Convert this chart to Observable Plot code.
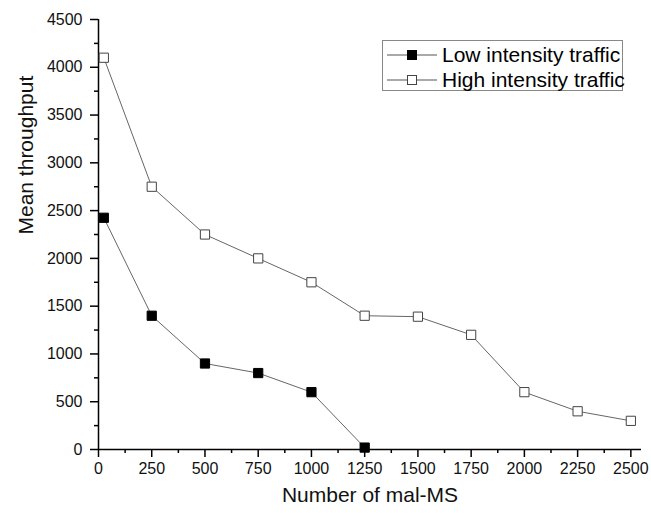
<!DOCTYPE html>
<html>
<head>
<meta charset="utf-8">
<script src="https://cdn.jsdelivr.net/npm/d3@7"></script>
<script src="https://cdn.jsdelivr.net/npm/@observablehq/plot@0.6"></script>
<style>
  html, body { margin: 0; padding: 0; background: #fff; }
  #wrap { position: relative; width: 651px; height: 513px; font-family: "Liberation Sans", Arial, sans-serif; }
  #legend { position: absolute; left: 382px; top: 40px; width: 241px; height: 51px; border: 1px solid #888; background: #fff; box-sizing: border-box; }
  .row { position: absolute; left: 3px; height: 24px; display: flex; align-items: center; font-size: 21px; color: #000; white-space: nowrap; }
  .row svg { margin-right: 4px; }
</style>
</head>
<body>
<div id="wrap"></div>
<script>
const xValues = [25, 250, 500, 750, 1000, 1250, 1500, 1750, 2000, 2250, 2500];
const lowValues = [2425, 1400, 900, 800, 600, 20];
const highValues = [4100, 2750, 2250, 2000, 1750, 1400, 1390, 1200, 600, 400, 300];
const seriesNames = ["Low intensity traffic", "High intensity traffic"];
const xTicks = [0, 250, 500, 750, 1000, 1250, 1500, 1750, 2000, 2250, 2500];
const xMinor = [125, 375, 625, 875, 1125, 1375, 1625, 1875, 2125, 2375];
const yTicks = [0, 500, 1000, 1500, 2000, 2500, 3000, 3500, 4000, 4500];
const yMinor = [250, 750, 1250, 1750, 2250, 2750, 3250, 3750, 4250];

const low = lowValues.map((v, i) => ({x: xValues[i], y: v, s: seriesNames[0]}));
const high = highValues.map((v, i) => ({x: xValues[i], y: v, s: seriesNames[1]}));
const fmt = d => String(d);

const chart = Plot.plot({
  width: 651,
  height: 513,
  marginLeft: 98,
  marginRight: 10,
  marginTop: 19,
  marginBottom: 64,
  style: {fontFamily: "Liberation Sans, Arial, sans-serif", background: "#fff"},
  x: {domain: [0, 2550]},
  y: {domain: [0, 4500]},
  marks: [
    Plot.axisX({ticks: xTicks, tickFormat: fmt, tickSize: 8, tickPadding: 5, fontSize: 16, label: null, stroke: "#000", strokeWidth: 1.5, fill: "#111"}),
    Plot.axisX({ticks: xMinor, tickSize: 4, text: null, label: null, stroke: "#000", strokeWidth: 1.5}),
    Plot.axisY({ticks: yTicks, tickFormat: fmt, tickSize: 8, tickPadding: 8, fontSize: 16, label: null, stroke: "#000", strokeWidth: 1.5, fill: "#111"}),
    Plot.axisY({ticks: yMinor, tickSize: 4, text: null, label: null, stroke: "#000", strokeWidth: 1.5}),
    Plot.ruleY([0], {stroke: "#000", strokeWidth: 1.5}),
    Plot.ruleX([0], {stroke: "#000", strokeWidth: 1.5}),
    Plot.line(high, {x: "x", y: "y", stroke: "#666", strokeWidth: 1}),
    Plot.line(low, {x: "x", y: "y", stroke: "#666", strokeWidth: 1}),
    Plot.dot(high, {x: "x", y: "y", symbol: "square", r: 5.2, fill: "#fff", stroke: "#444", strokeWidth: 1}),
    Plot.dot(low, {x: "x", y: "y", symbol: "square", r: 5.2, fill: "#000", stroke: "#000", strokeWidth: 1}),
    Plot.text(["Number of mal-MS"], {frameAnchor: "bottom", dy: 52, fontSize: 21, fill: "#111"}),
    Plot.text(["Mean throughput"], {frameAnchor: "left", dx: -72, rotate: -90, fontSize: 21, fill: "#111"})
  ]
});
const wrap = document.getElementById("wrap");
wrap.appendChild(chart);

const legend = document.createElement("div");
legend.id = "legend";
const samples = [{fill: "#000", stroke: "#000"}, {fill: "#fff", stroke: "#444"}];
seriesNames.forEach((name, i) => {
  const row = document.createElement("div");
  row.className = "row";
  row.style.top = (2 + i * 25) + "px";
  row.innerHTML = `<svg width="52" height="12"><line x1="1" y1="6" x2="51" y2="6" stroke="#555" stroke-width="1"/><rect x="21.5" y="1.5" width="9" height="9" fill="${samples[i].fill}" stroke="${samples[i].stroke}"/></svg><span>${name}</span>`;
  legend.appendChild(row);
});
wrap.appendChild(legend);
</script>
</body>
</html>
